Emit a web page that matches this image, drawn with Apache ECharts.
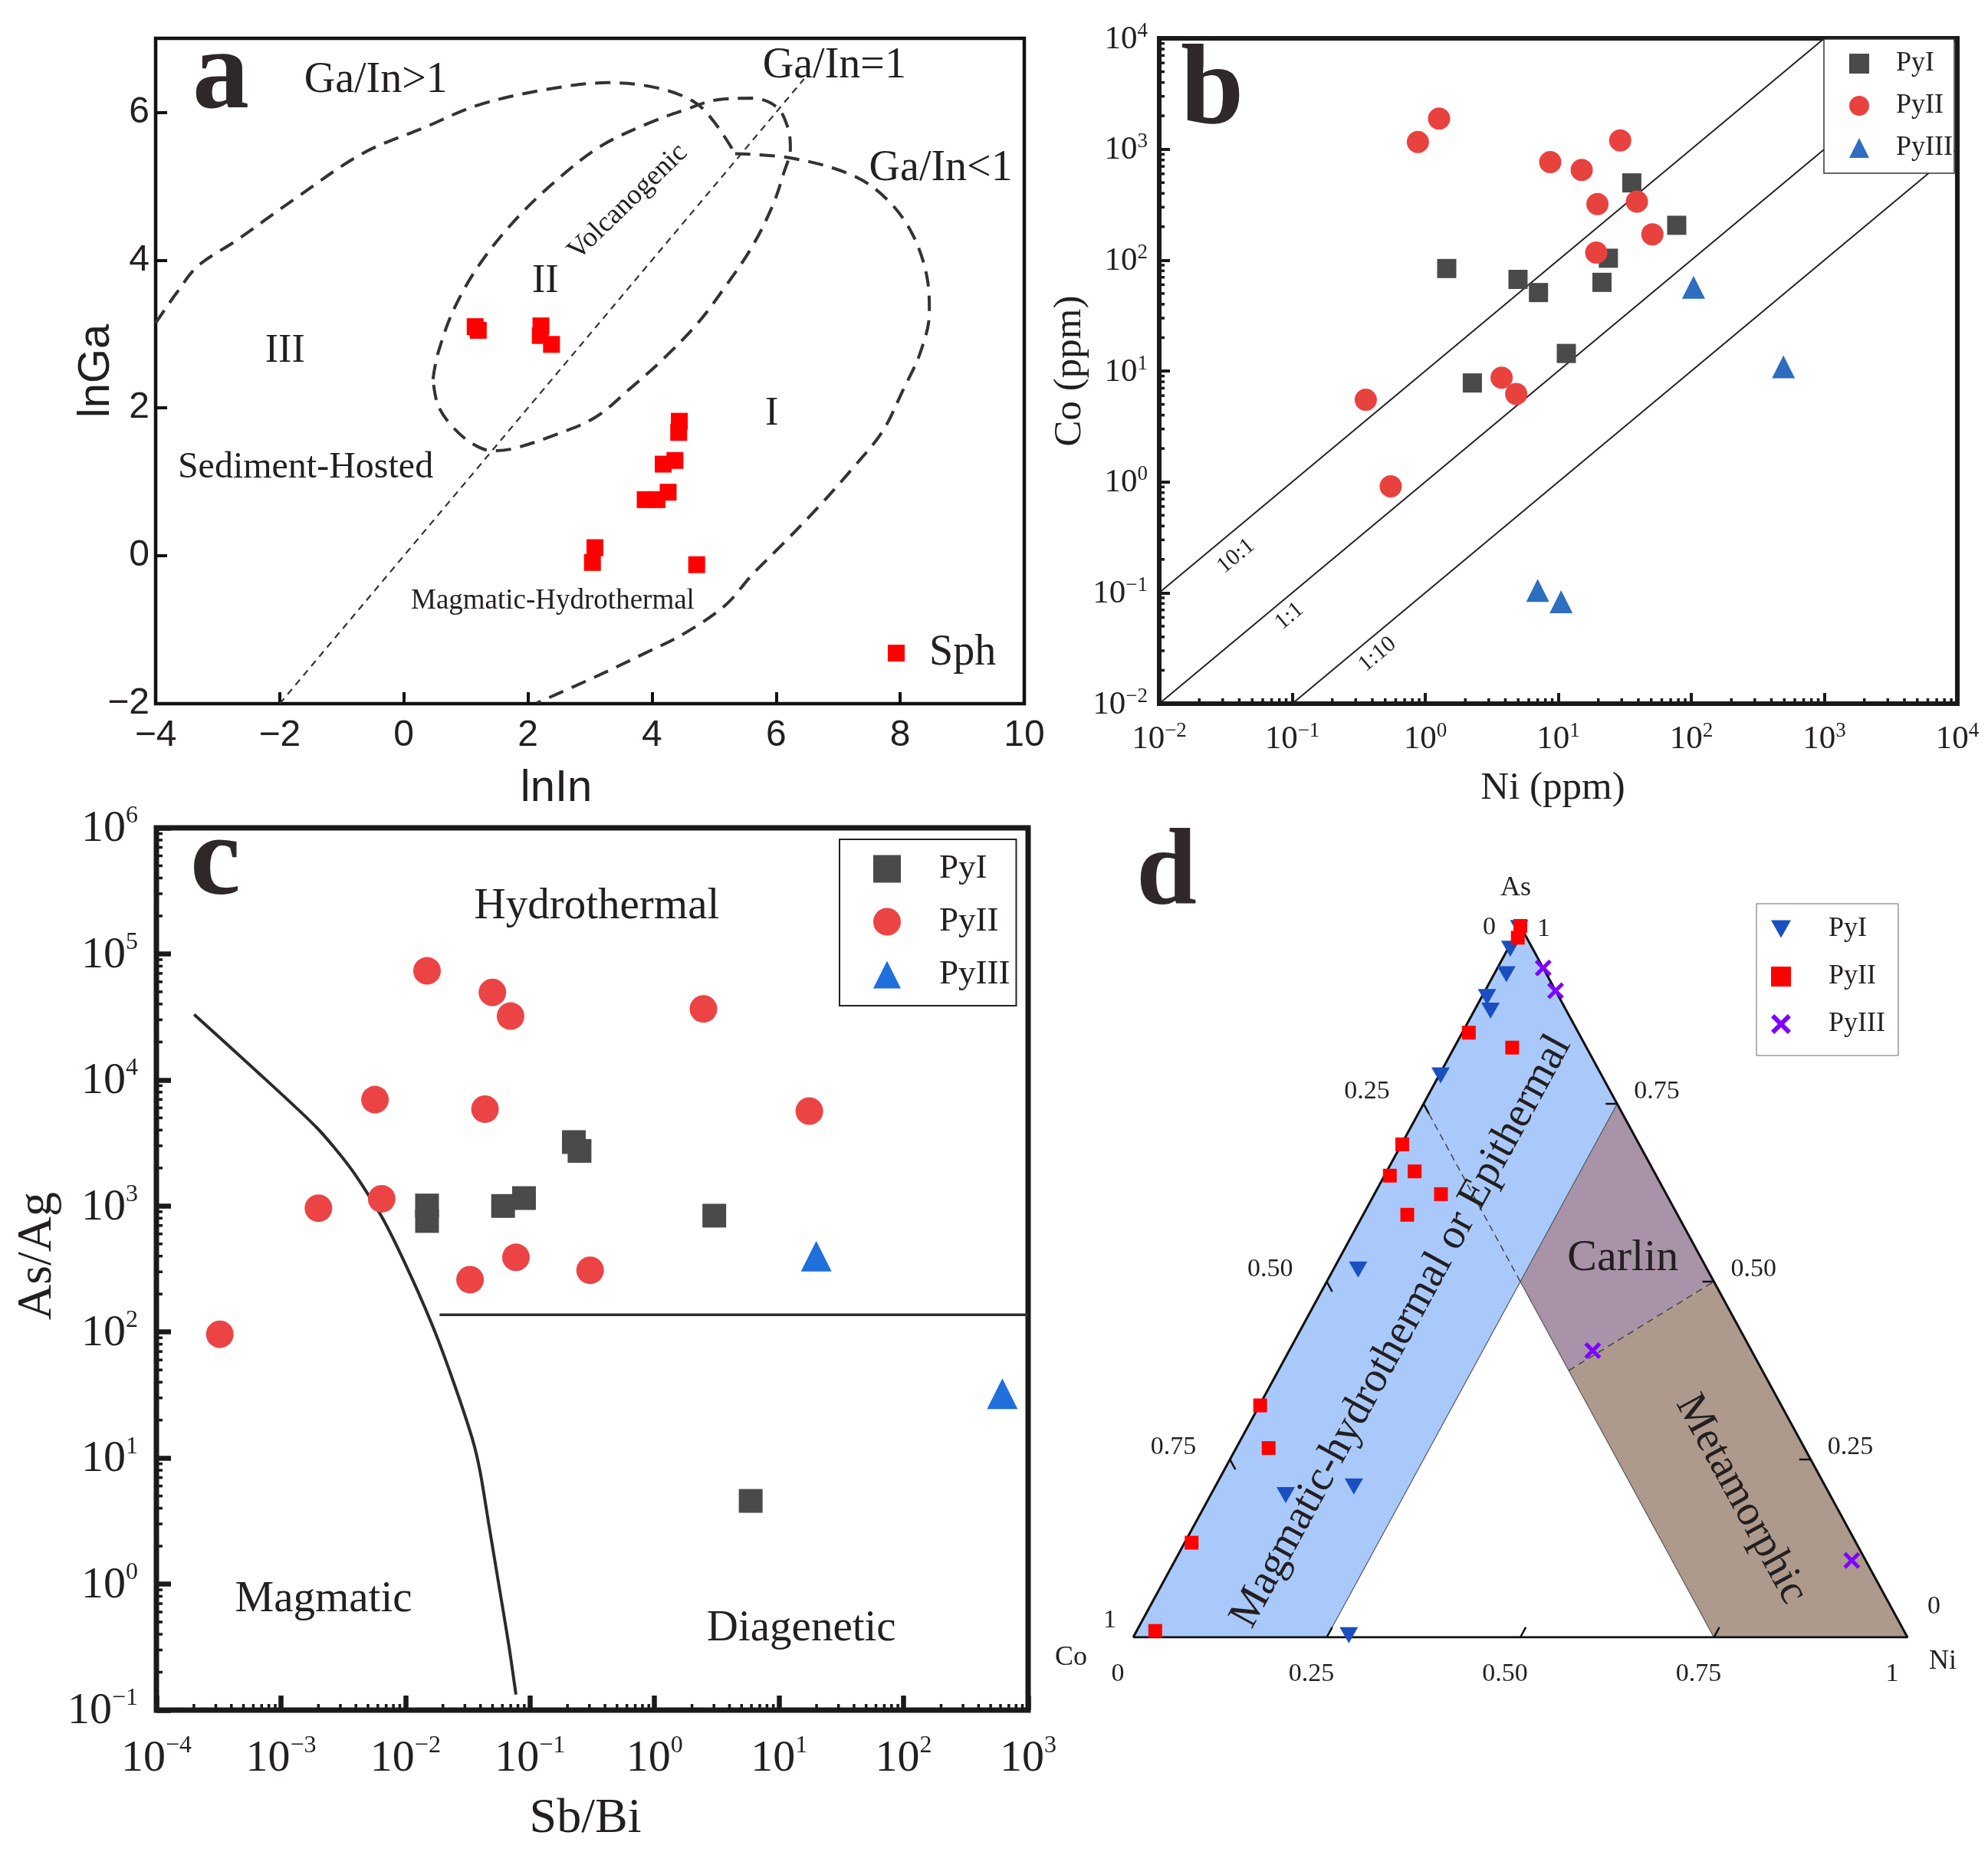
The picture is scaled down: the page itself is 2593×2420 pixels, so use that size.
<!DOCTYPE html>
<html><head><meta charset="utf-8">
<script src="https://cdn.jsdelivr.net/npm/echarts@6/dist/echarts.min.js"></script>
<style>html,body{margin:0;padding:0;background:#fff}#c{width:2593px;height:2420px}</style>
</head><body><div id="c"></div><script>
// ================= DATA =================
// ---- panel a : lnIn vs lnGa (sphalerite) ----
const sphX = [1.15, 1.20, 2.21, 2.20, 2.38, 4.44, 4.43, 4.37, 4.18, 4.26, 3.89, 4.08, 3.08, 3.04, 4.72];
const sphY = [3.10, 3.05, 3.11, 2.98, 2.86, 1.82, 1.67, 1.29, 1.24, 0.86, 0.76, 0.76, 0.11, -0.09, -0.12];
// field boundaries
const sedCurveX = [-4, -3.65, -3.32, -2.71, -1.77, -0.67, 0.32, 1.21, 2.31, 3.30, 4.08, 4.68, 5.01, 5.34];
const sedCurveY = [3.15, 3.57, 3.92, 4.26, 4.82, 5.44, 5.79, 6.10, 6.31, 6.40, 6.33, 6.14, 5.86, 5.44];
const magCurveX = [5.34, 6.28, 7.275, 7.83, 8.21, 8.43, 8.47, 8.32, 8.05, 7.72, 7.22, 6.67, 6.12, 5.62, 5.18, 4.52, 3.855, 3.08, 2.145];
const magCurveY = [5.44, 5.375, 5.13, 4.785, 4.33, 3.78, 3.29, 2.74, 2.25, 1.69, 1.17, 0.65, 0.17, -0.25, -0.67, -1.05, -1.33, -1.64, -1.99];
const volCurveX = [0.47, 0.55, 0.82, 1.26, 1.87, 2.53, 3.19, 3.97, 4.52, 5.07, 5.62, 6.01, 6.19, 6.23, 6.12, 5.95, 5.62, 5.18, 4.74, 4.19, 3.63, 3.08, 2.42, 1.76, 1.43, 1.10, 0.77, 0.55, 0.47];
const volCurveY = [2.39, 2.74, 3.36, 3.99, 4.61, 5.13, 5.55, 5.86, 6.03, 6.17, 6.19, 6.07, 5.79, 5.51, 5.17, 4.75, 4.19, 3.64, 3.15, 2.67, 2.25, 1.87, 1.63, 1.45, 1.42, 1.52, 1.76, 2.04, 2.39];
const gaInLineX = [-2, 6.45];
const gaInLineY = [-2, 6.45];
const aTicksX = [-4, -2, 0, 2, 4, 6, 8, 10];

// ---- panel b : Ni vs Co (ppm) ----
const bPyINi = [1.45, 4.98, 7.1, 35.7, 77.7, 23.8, 21.3, 11.5, 2.26];
const bPyICo = [84, 67, 51, 497, 206, 104, 63, 14.4, 7.8];
const bPyIINi = [0.88, 1.27, 29.2, 8.7, 15, 19.7, 39, 51, 19.3, 0.357, 3.75, 4.83, 0.55];
const bPyIICo = [1160, 1888, 1200, 764, 650, 320, 337, 171, 117, 5.5, 8.7, 6.2, 0.91];
const bPyIIINi = [104, 493, 7.0, 10.5];
const bPyIIICo = [57, 10.9, 0.105, 0.083];
const bLine10 = [[0.01, 0.1], [1000, 10000]];
const bLine1 = [[0.01, 0.01], [10000, 10000]];
const bLine01 = [[0.1, 0.01], [10000, 1000]];
const bDecades = [-2, -1, 0, 1, 2, 3];

// ---- panel c : Sb/Bi vs As/Ag ----
const cPyISb = [0.0149, 0.0149, 0.0608, 0.0895, 0.225, 0.25, 3.02, 5.92];
const cPyIAs = [1009, 760, 1000, 1155, 3213, 2735, 838, 4.57];
const cPyIISb = [0.0149, 0.0499, 0.0698, 2.47, 0.00569, 0.0435, 17.5, 0.002, 0.00644, 0.0771, 0.033, 0.304, 0.000323];
const cPyIIAs = [73400, 49500, 32100, 36600, 6980, 5870, 5660, 960, 1140, 391, 260, 309, 96];
const cPyIIISb = [19.9, 621];
const cPyIIIAs = [400, 32.4];
const cCurveSb = [0.000201, 0.00063, 0.00195, 0.00363, 0.00637, 0.00987, 0.0162, 0.0236, 0.0343, 0.0398, 0.0469, 0.0565, 0.068, 0.0771];
const cCurveAs = [33000, 11860, 4160, 1990, 839, 354, 117, 43.6, 14.4, 7.76, 2.9, 0.957, 0.316, 0.133];
const cBoundSb = [0.0188, 1000];
const cBoundAs = [137, 137];
const cDecadesX = [-4, -3, -2, -1, 0, 1, 2];
const cDecadesY = [-1, 0, 1, 2, 3, 4, 5];
const minorMult = [2, 3, 4, 5, 6, 7, 8, 9];

// ---- panel d : Co-As-Ni ternary, triples [Co, As, Ni] ----
const dPyI = [[0.003, 0.997, 0.0], [0.029, 0.968, 0.003], [0.052, 0.932, 0.016], [0.093, 0.900, 0.007], [0.098, 0.881, 0.021],
  [0.208, 0.790, 0.002], [0.451, 0.517, 0.032], [0.703, 0.200, 0.097], [0.609, 0.212, 0.179], [0.720, 0.003, 0.277]];
const dPyII = [[0.0, 1.0, 0.0], [0.0115, 0.9835, 0.005], [0.1415, 0.850, 0.0085], [0.096, 0.829, 0.075], [0.306, 0.693, 0.001],
  [0.344, 0.649, 0.007], [0.309, 0.655, 0.036], [0.291, 0.623, 0.086], [0.349, 0.594, 0.057], [0.673, 0.326, 0.001],
  [0.692, 0.266, 0.042], [0.858, 0.133, 0.009], [0.967, 0.009, 0.024]];
const dPyIII = [[0.0, 0.941, 0.059], [0.0, 0.909, 0.091], [0.205, 0.403, 0.392], [0.018, 0.108, 0.874]];
const dBlue = [[1, 0, 0], [0.75, 0, 0.25], [0, 0.75, 0.25], [0, 1, 0]];
const dCarlin = [[0, 0.75, 0.25], [0.25, 0.5, 0.25], [0.25, 0.375, 0.375], [0, 0.5, 0.5]];
const dMeta = [[0, 0.5, 0.5], [0.25, 0.375, 0.375], [0.25, 0, 0.75], [0, 0, 1]];
const dFrame = [[1, 0, 0], [0, 1, 0], [0, 0, 1], [1, 0, 0]];
const dCoQuarterUpper = [[0.25, 0.75, 0], [0.25, 0.5, 0.25]];
const dCoQuarterLower = [[0.25, 0.5, 0.25], [0.25, 0, 0.75]];
const dNiQuarter = [[0.75, 0, 0.25], [0, 0.75, 0.25]];
const dAsEqNi = [[0.25, 0.375, 0.375], [0, 0.5, 0.5]];
const dTicks = [0, 0.25, 0.5, 0.75, 1];
const dTickLabels = ['0', '0.25', '0.50', '0.75', '1'];

// ================= HELPERS =================
const SERIF = "'Liberation Serif','Times New Roman',serif";
const SANS = "'Liberation Sans',Arial,sans-serif";
const INK = '#231f20';
const zip = (xs, ys) => xs.map((x, i) => [x, ys[i]]);
function tern(t) { const s = t[0] + t[1] + t[2]; const as = t[1] / s, ni = t[2] / s; return [ni + as / 2, as]; }
const minus = v => (v < 0 ? '\u2212' + (-v) : String(v));
function supLabel(v) { const e = Math.round(Math.log10(v)); return '{b|10}{s|' + minus(e) + '}'; }
function minorVals(decs) { const out = []; decs.forEach(d => minorMult.forEach(m => out.push(m * Math.pow(10, d)))); return out; }
function legendFmt(n) { return n.split(':')[1]; }

function noteSeries(xi, yi, items) {
  return {
    type: 'scatter', xAxisIndex: xi, yAxisIndex: yi, silent: true, z: 8, symbolSize: 1,
    itemStyle: { color: 'rgba(0,0,0,0)', opacity: 1 },
    label: { show: true, position: 'inside', color: INK, fontFamily: SERIF, opacity: 1 },
    data: items.map(it => ({
      value: it.v, name: it.t,
      label: Object.assign({ formatter: it.t, fontSize: it.fs || 40, rotate: it.rot || 0 },
        it.off ? { offset: it.off } : {}, it.align ? { align: it.align } : {})
    }))
  };
}
function minorTicks(xi, yi, vals, dir, fixed, len, w) {
  return {
    type: 'custom', xAxisIndex: xi, yAxisIndex: yi, silent: true, z: 4,
    data: vals.map(v => (dir === 'x' ? [v, fixed] : [fixed, v])),
    renderItem: (params, api) => {
      const p = api.coord([api.value(0), api.value(1)]);
      const shape = dir === 'x' ? { x1: p[0], y1: p[1], x2: p[0], y2: p[1] - len } : { x1: p[0], y1: p[1], x2: p[0] + len, y2: p[1] };
      return { type: 'line', shape, style: { stroke: '#1a1a1a', lineWidth: w } };
    }
  };
}
function lineSeries(xi, yi, data, style, smooth) {
  return { type: 'line', xAxisIndex: xi, yAxisIndex: yi, data, symbol: 'none', silent: true, smooth: smooth || false, lineStyle: style, z: 3 };
}
function richLab(base, sup, lh, margin) {
  return {
    margin, formatter: supLabel,
    rich: {
      b: { fontSize: base, fontFamily: SERIF, color: INK, lineHeight: lh, verticalAlign: 'bottom' },
      s: { fontSize: sup, fontFamily: SERIF, color: INK, lineHeight: Math.round(sup * 1.05), verticalAlign: 'top' }
    }
  };
}
function logAxis(gi, min, max, split, tickLen, tickW, lab, name, nameGap, nameFs, namePad) {
  return {
    gridIndex: gi, type: 'log', logBase: 10, min, max, splitNumber: split,
    axisLine: { show: false, onZero: false }, splitLine: { show: false },
    axisTick: { inside: true, length: tickLen, lineStyle: { width: tickW, color: '#1a1a1a' } },
    minorTick: { show: false }, axisLabel: lab,
    name, nameLocation: 'middle', nameGap,
    nameTextStyle: { fontSize: nameFs, fontFamily: SERIF, color: INK, padding: namePad || 0 }
  };
}
function scatterS(name, xi, data, symbol, size, color, z, extra) {
  return Object.assign({ name, type: 'scatter', xAxisIndex: xi, yAxisIndex: xi, symbol, symbolSize: size,
    itemStyle: { color, opacity: 1 }, data, z: z || 6 }, extra || {});
}

// annotation positions
const aNotes = [
  { t: 'Ga/In>1', v: [-0.45, 6.43], fs: 56 },
  { t: 'Ga/In=1', v: [6.94, 6.625], fs: 56 },
  { t: 'Ga/In<1', v: [8.655, 5.236], fs: 56 },
  { t: 'Volcanogenic', v: [3.61, 4.785], fs: 37, rot: 44 },
  { t: 'II', v: [2.28, 3.71], fs: 52 },
  { t: 'III', v: [-1.915, 2.77], fs: 52 },
  { t: 'I', v: [5.93, 1.92], fs: 52 },
  { t: 'Sediment-Hosted', v: [-1.584, 1.194], fs: 48 },
  { t: 'Magmatic-Hydrothermal', v: [2.40, -0.61], fs: 37 }
];
const bNotes = [
  { t: '10:1', v: [0.0378, 0.214], fs: 30, rot: 39.8 },
  { t: '1:1', v: [0.0953, 0.0615], fs: 30, rot: 39.8 },
  { t: '1:10', v: [0.4375, 0.0278], fs: 30, rot: 39.8 }
];
const cNotes = [
  { t: 'Hydrothermal', v: [0.344, 237000], fs: 57 },
  { t: 'Magmatic', v: [0.0022, 0.75], fs: 57 },
  { t: 'Diagenetic', v: [15.1, 0.44], fs: 57 }
];
const dNotes = [
  { t: 'Magmatic-hydrothermal or Epithermal', v: tern([0.4385, 0.43, 0.1315]), fs: 56, rot: 61.4 },
  { t: 'Carlin', v: tern([0.101, 0.533, 0.366]), fs: 58 },
  { t: 'Metamorphic', v: tern([0.118, 0.194, 0.688]), fs: 56, rot: -61.4 },
  { t: 'As', v: tern([0, 1, 0]), fs: 36, off: [-6, -49] },
  { t: 'Co', v: tern([1, 0, 0]), fs: 36, off: [-81, 27] },
  { t: 'Ni', v: tern([0, 0, 1]), fs: 36, off: [46, 32] }
];
const dTickNotes = [];
dTicks.forEach((t, i) => {
  const lab = dTickLabels[i];
  dTickNotes.push({ t: lab, v: tern([t, 1 - t, 0]), fs: 34, align: 'right', off: t === 1 ? [-22, -22] : (t === 0 ? [-32, 2] : [-44, -16]) });
  dTickNotes.push({ t: lab, v: tern([0, t, 1 - t]), fs: 34, align: 'left', off: t === 0 ? [26, -40] : (t === 1 ? [22, 4] : [22, -16]) });
  dTickNotes.push({ t: lab, v: tern([1 - t, 0, t]), fs: 34, off: [-20, 48] });
});
const dTickSegs = [];
dTicks.slice(1, 4).forEach(t => {
  dTickSegs.push([[t, 1 - t, 0], [t, 1 - t - 0.05, 0.05]]);
  dTickSegs.push([[0, t, 1 - t], [0.05, t, 0.95 - t]]);
  dTickSegs.push([[1 - t, 0, t], [0.95 - t, 0.05, t]]);
});
const dRegions = [dBlue, dCarlin, dMeta];
const dRegionColors = ['#a9c9fb', '#a893a8', '#ae9a8d'];
const crossPath = 'path://M0,1.6L1.6,0L5,3.4L8.4,0L10,1.6L6.6,5L10,8.4L8.4,10L5,6.6L1.6,10L0,8.4L3.4,5Z';
const downTriPath = 'path://M0,0L10,0L5,8.8Z';

// ================= OPTION =================
const dash = (w, pat, c) => ({ width: w, type: pat, color: c || '#333' });
const letterStyle = fs => ({ fontSize: fs, fontWeight: 'bold', fontFamily: SERIF, color: '#2e2928', lineHeight: fs });
const option = {
  animation: false,
  backgroundColor: '#fff',
  title: [
    { text: 'a', left: 251, top: 28, padding: 0, textStyle: letterStyle(148) },
    { text: 'b', left: 1540, top: 48, padding: 0, textStyle: letterStyle(148) },
    { text: 'c', left: 248, top: 1054, padding: 0, textStyle: letterStyle(148) },
    { text: 'd', left: 1482, top: 1071, padding: 0, textStyle: letterStyle(142) }
  ],
  legend: [
    { data: ['a:Sph'], formatter: legendFmt, selectedMode: false, orient: 'vertical', left: 1158, top: 824, padding: 0,
      itemWidth: 22, itemHeight: 22, textStyle: { fontSize: 56, fontFamily: SERIF, color: INK, padding: [0, 0, 0, 27], lineHeight: 22 } },
    { data: ['b:PyI', 'b:PyII', 'b:PyIII'], formatter: legendFmt, selectedMode: false, orient: 'vertical', left: 2379, top: 51,
      padding: [14, 2, 15, 33], itemWidth: 26, itemHeight: 26, itemGap: 19, borderColor: '#333', borderWidth: 1.5, backgroundColor: '#fff',
      textStyle: { fontSize: 36, fontFamily: SERIF, color: INK, padding: [0, 0, 0, 30], lineHeight: 26 } },
    { data: ['c:PyI', 'c:PyII', 'c:PyIII'], formatter: legendFmt, selectedMode: false, orient: 'vertical', left: 1095, top: 1095,
      padding: [16, 8, 18, 44], itemWidth: 36, itemHeight: 36, itemGap: 24, borderColor: '#222', borderWidth: 2, backgroundColor: '#fff',
      textStyle: { fontSize: 45, fontFamily: SERIF, color: INK, padding: [0, 0, 0, 45], lineHeight: 36 } },
    { data: [{ name: 'd:PyI', icon: downTriPath }, 'd:PyII', 'd:PyIII'], formatter: legendFmt, selectedMode: false, orient: 'vertical', left: 2291, top: 1179,
      padding: [15, 17, 23, 19], itemWidth: 26, itemHeight: 26, itemGap: 26, borderColor: '#666', borderWidth: 1, backgroundColor: '#fff',
      textStyle: { fontSize: 36, fontFamily: SERIF, color: INK, padding: [0, 0, 0, 44], lineHeight: 26 } }
  ],
  grid: [
    { left: 203, top: 50, width: 1133, height: 868, show: true, borderColor: '#111', borderWidth: 4.5, backgroundColor: 'rgba(0,0,0,0)' },
    { left: 1512, top: 50, width: 1041, height: 868, show: true, borderColor: '#1a1a1a', borderWidth: 6, backgroundColor: 'rgba(0,0,0,0)' },
    { left: 204, top: 1080, width: 1137, height: 1151, show: true, borderColor: '#1a1a1a', borderWidth: 7, backgroundColor: 'rgba(0,0,0,0)' },
    { left: 1478, top: 1208, width: 1010, height: 928, show: false }
  ],
  xAxis: [
    { gridIndex: 0, type: 'value', min: aTicksX[0], max: aTicksX[aTicksX.length - 1], interval: 2,
      axisLine: { show: false, onZero: false }, splitLine: { show: false },
      axisTick: { inside: true, length: 15, lineStyle: { width: 4, color: '#111' } },
      axisLabel: { margin: 18, fontSize: 48, fontFamily: SANS, color: INK, formatter: minus },
      name: 'lnIn', nameLocation: 'middle', nameGap: 82,
      nameTextStyle: { fontSize: 58, fontFamily: SANS, color: INK, padding: [0, 88, 0, 0] } },
    logAxis(1, 0.01, 10000, 6, 14, 4, richLab(43, 27, 46, 22), 'Ni (ppm)', 85, 51, [0, 14, 0, 0]),
    logAxis(2, 0.0001, 1000, 7, 19, 6.5, richLab(58, 32, 62, 31), 'Sb/Bi', 110, 64, [0, 18, 0, 0]),
    { gridIndex: 3, type: 'value', min: 0, max: 1, show: false }
  ],
  yAxis: [
    { gridIndex: 0, type: 'value', min: -2, max: 7, interval: 2,
      axisLine: { show: false, onZero: false }, splitLine: { show: false },
      axisTick: { inside: true, length: 15, lineStyle: { width: 4, color: '#111' } },
      axisLabel: { margin: 8, fontSize: 48, fontFamily: SANS, color: INK, formatter: minus, showMaxLabel: false },
      name: 'lnGa', nameLocation: 'middle', nameGap: 48, nameMoveOverlap: false,
      nameTextStyle: { fontSize: 58, fontFamily: SANS, color: INK } },
    logAxis(1, 0.01, 10000, 6, 14, 4, richLab(43, 27, 46, 15), 'Co (ppm)', 85, 51),
    logAxis(2, 0.1, 1000000, 7, 19, 6.5, richLab(58, 32, 62, 24), 'As/Ag', 123, 64, [0, 0, 0, 34]),
    { gridIndex: 3, type: 'value', min: 0, max: 1, show: false }
  ],
  series: [
    // ---------- panel a ----------
    lineSeries(0, 0, zip(sedCurveX, sedCurveY), dash(4, [20, 12]), 0.35),
    lineSeries(0, 0, zip(magCurveX, magCurveY), dash(4, [20, 12]), 0.35),
    lineSeries(0, 0, zip(volCurveX, volCurveY), dash(4, [20, 12]), 0.35),
    lineSeries(0, 0, zip(gaInLineX, gaInLineY), dash(2.2, [9, 7])),
    scatterS('a:Sph', 0, zip(sphX, sphY), 'rect', 22, '#ff0000'),
    noteSeries(0, 0, aNotes),
    // ---------- panel b ----------
    lineSeries(1, 1, bLine10, { width: 2, color: '#222' }),
    lineSeries(1, 1, bLine1, { width: 2, color: '#222' }),
    lineSeries(1, 1, bLine01, { width: 2, color: '#222' }),
    scatterS('b:PyI', 1, zip(bPyINi, bPyICo), 'rect', 25, '#4a4a4a'),
    scatterS('b:PyII', 1, zip(bPyIINi, bPyIICo), 'circle', 29, '#e8423f'),
    scatterS('b:PyIII', 1, zip(bPyIIINi, bPyIIICo), 'triangle', 30, '#2e6dc0'),
    noteSeries(1, 1, bNotes),
    minorTicks(1, 1, minorVals(bDecades), 'x', 0.01, 7, 3.5),
    minorTicks(1, 1, minorVals(bDecades), 'y', 0.01, 7, 3.5),
    // ---------- panel c ----------
    lineSeries(2, 2, zip(cCurveSb, cCurveAs), { width: 4, color: '#2e2a2a' }, 0.25),
    lineSeries(2, 2, zip(cBoundSb, cBoundAs), { width: 3.5, color: '#2e2a2a' }),
    scatterS('c:PyI', 2, zip(cPyISb, cPyIAs), 'rect', 31, '#4a4a4a'),
    scatterS('c:PyII', 2, zip(cPyIISb, cPyIIAs), 'circle', 36, '#ec4444'),
    scatterS('c:PyIII', 2, zip(cPyIIISb, cPyIIIAs), 'triangle', 40, '#1f6fdc'),
    noteSeries(2, 2, cNotes),
    minorTicks(2, 2, minorVals(cDecadesX), 'x', 0.1, 8, 3.5),
    minorTicks(2, 2, minorVals(cDecadesY), 'y', 0.0001, 8, 3.5),
    // ---------- panel d (ternary) ----------
    { type: 'custom', xAxisIndex: 3, yAxisIndex: 3, silent: true, z: 1,
      data: dRegions.map(() => [0, 0]),
      renderItem: (params, api) => ({
        type: 'polygon',
        shape: { points: dRegions[params.dataIndex].map(t => api.coord(tern(t))) },
        style: { fill: dRegionColors[params.dataIndex] }
      }) },
    lineSeries(3, 3, dNiQuarter.map(tern), { width: 1.2, color: '#555' }),
    lineSeries(3, 3, dCoQuarterLower.map(tern), { width: 1.2, color: '#555' }),
    lineSeries(3, 3, dCoQuarterUpper.map(tern), dash(1.5, [9, 6], '#444')),
    lineSeries(3, 3, dAsEqNi.map(tern), dash(1.5, [9, 6], '#444')),
    lineSeries(3, 3, dFrame.map(tern), { width: 3, color: '#111' }),
    { type: 'custom', xAxisIndex: 3, yAxisIndex: 3, silent: true, z: 4,
      data: dTickSegs.map(() => [0, 0]),
      renderItem: (params, api) => {
        const s = dTickSegs[params.dataIndex];
        const p0 = api.coord(tern(s[0])), p1 = api.coord(tern(s[1]));
        const dx = p1[0] - p0[0], dy = p1[1] - p0[1], L = Math.hypot(dx, dy);
        return { type: 'line', shape: { x1: p0[0], y1: p0[1], x2: p0[0] + dx / L * 15, y2: p0[1] + dy / L * 15 },
          style: { stroke: '#111', lineWidth: 2.5 } };
      } },
    scatterS('d:PyI', 3, dPyI.map(tern), 'triangle', [24, 21], '#1a4fbf', 6, { symbolRotate: 180 }),
    scatterS('d:PyII', 3, dPyII.map(tern), 'rect', 18, '#ff0000', 7),
    scatterS('d:PyIII', 3, dPyIII.map(tern), crossPath, 22, '#7f00ff', 7),
    noteSeries(3, 3, dNotes),
    noteSeries(3, 3, dTickNotes)
  ]
};
const chart = echarts.init(document.getElementById('c'), null, { renderer: 'canvas', width: 2593, height: 2420 });
chart.setOption(option);
</script></body></html>
